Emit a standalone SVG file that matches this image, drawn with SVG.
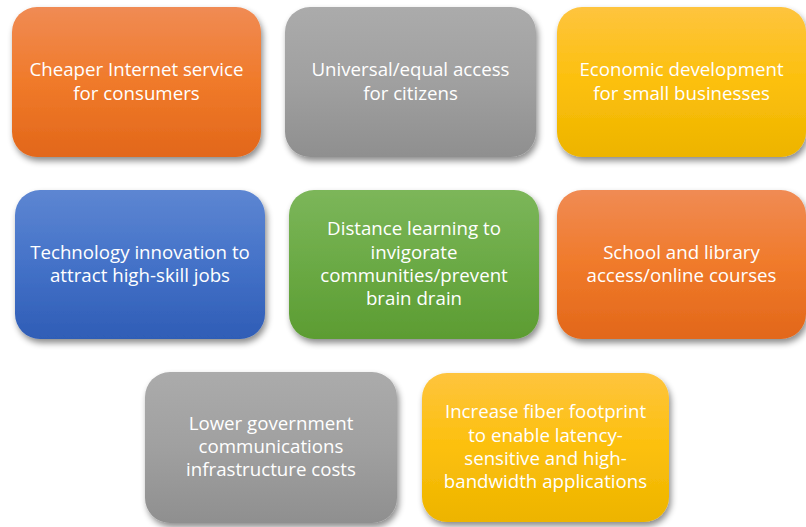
<svg xmlns="http://www.w3.org/2000/svg" width="806" height="527" viewBox="0 0 806 527">
  <defs>
    <linearGradient id="gOrange" x1="0" y1="0" x2="0" y2="1">
      <stop offset="0" stop-color="#F08B54"/>
      <stop offset="0.5" stop-color="#F07A2A"/>
      <stop offset="1" stop-color="#E2671A"/>
    </linearGradient>
    <linearGradient id="gGray" x1="0" y1="0" x2="0" y2="1">
      <stop offset="0" stop-color="#ABABAB"/>
      <stop offset="0.5" stop-color="#A0A0A0"/>
      <stop offset="1" stop-color="#8F8F8F"/>
    </linearGradient>
    <linearGradient id="gYellow" x1="0" y1="0" x2="0" y2="1">
      <stop offset="0" stop-color="#FEC43E"/>
      <stop offset="0.5" stop-color="#FCC00C"/>
      <stop offset="1" stop-color="#EDB400"/>
    </linearGradient>
    <linearGradient id="gBlue" x1="0" y1="0" x2="0" y2="1">
      <stop offset="0" stop-color="#5D86D2"/>
      <stop offset="0.5" stop-color="#4472C8"/>
      <stop offset="1" stop-color="#2F5DB6"/>
    </linearGradient>
    <linearGradient id="gGreen" x1="0" y1="0" x2="0" y2="1">
      <stop offset="0" stop-color="#7CB65A"/>
      <stop offset="0.5" stop-color="#6BAA45"/>
      <stop offset="1" stop-color="#5C9C32"/>
    </linearGradient>
    <filter id="shadow" x="-10%" y="-10%" width="125%" height="130%">
      <feDropShadow dx="2" dy="4" stdDeviation="3" flood-color="#000" flood-opacity="0.45"/>
    </filter>
  </defs>
  <style>
    .box { filter: url(#shadow); }
    .label { font-family: "Open Sans", "Liberation Sans", sans-serif; font-size: 18.7px; fill: #FFFFFF; text-anchor: middle; }
  </style>
  <rect width="806" height="527" fill="#FFFFFF"/>

  <g id="node-cheaper-internet">
    <rect class="box" x="12" y="7" width="249" height="150" rx="25" fill="url(#gOrange)"/>
    <text class="label" x="136.5" y="76">Cheaper Internet service</text>
    <text class="label" x="136.5" y="100">for consumers</text>
  </g>

  <g id="node-universal-access">
    <rect class="box" x="285" y="7" width="251" height="150" rx="25" fill="url(#gGray)"/>
    <text class="label" x="410.5" y="76">Universal/equal access</text>
    <text class="label" x="410.5" y="100">for citizens</text>
  </g>

  <g id="node-economic-development">
    <rect class="box" x="557" y="7" width="249" height="150" rx="25" fill="url(#gYellow)"/>
    <text class="label" x="681.5" y="76">Economic development</text>
    <text class="label" x="681.5" y="100">for small businesses</text>
  </g>

  <g id="node-technology-innovation">
    <rect class="box" x="15" y="190" width="250" height="149" rx="25" fill="url(#gBlue)"/>
    <text class="label" x="140" y="259">Technology innovation to</text>
    <text class="label" x="140" y="282">attract high-skill jobs</text>
  </g>

  <g id="node-distance-learning">
    <rect class="box" x="289" y="190" width="250" height="149" rx="25" fill="url(#gGreen)"/>
    <text class="label" x="414" y="235">Distance learning to</text>
    <text class="label" x="414" y="259">invigorate</text>
    <text class="label" x="414" y="282">communities/prevent</text>
    <text class="label" x="414" y="305">brain drain</text>
  </g>

  <g id="node-school-library">
    <rect class="box" x="557" y="190" width="249" height="149" rx="25" fill="url(#gOrange)"/>
    <text class="label" x="681.5" y="259">School and library</text>
    <text class="label" x="681.5" y="282">access/online courses</text>
  </g>

  <g id="node-lower-costs">
    <rect class="box" x="145" y="372" width="252" height="151" rx="25" fill="url(#gGray)"/>
    <text class="label" x="271" y="430">Lower government</text>
    <text class="label" x="271" y="453">communications</text>
    <text class="label" x="271" y="476">infrastructure costs</text>
  </g>

  <g id="node-fiber-footprint">
    <rect class="box" x="422" y="373" width="247" height="149" rx="25" fill="url(#gYellow)"/>
    <text class="label" x="545.5" y="418">Increase fiber footprint</text>
    <text class="label" x="545.5" y="442">to enable latency-</text>
    <text class="label" x="545.5" y="465">sensitive and high-</text>
    <text class="label" x="545.5" y="488">bandwidth applications</text>
  </g>

  <g id="connectors"></g>
</svg>
